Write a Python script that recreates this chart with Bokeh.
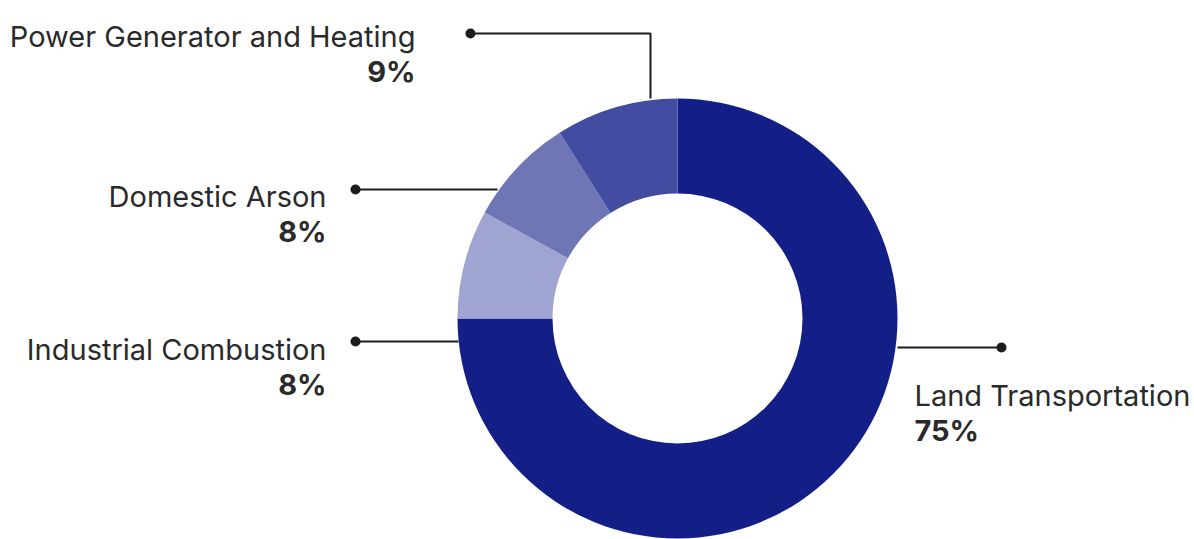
import math
from bokeh.plotting import figure
from bokeh.models import Range1d
from bokeh.core.properties import value
from bokeh.embed import file_html
from bokeh.resources import INLINE

# ---- data ----
categories = ["Land Transportation", "Industrial Combustion", "Domestic Arson", "Power Generator and Heating"]
shares = [75, 8, 8, 9]
pct_labels = ["75%", "8%", "8%", "9%"]
colors = ["#131f87", "#a0a4d0", "#6f76b5", "#424ca0"]

W, H = 1194, 539
p = figure(width=W, height=H, output_backend="svg", toolbar_location=None,
           x_range=Range1d(0, W), y_range=Range1d(0, H), min_border=0)
p.axis.visible = False
p.grid.visible = False
p.outline_line_color = None
p.background_fill_color = "white"

def Y(y):
    return H - y

cx, cy = 677, Y(318)
r_out, r_in = 220, 125

total = sum(shares)
start = math.pi / 2
starts, ends = [], []
for s in shares:
    a = s / total * 2 * math.pi
    starts.append(start)
    ends.append(start - a)
    start -= a

p.annular_wedge(x=[cx] * len(shares), y=[cy] * len(shares), inner_radius=r_in, outer_radius=r_out,
                start_angle=starts, end_angle=ends, direction="clock",
                fill_color=colors, line_color=None)

ink = "#1c1c1c"
font = value("Inter")

# leader lines: Land, Industrial, Domestic, Power
p.line([897, 1001], [Y(347)] * 2, line_color=ink, line_width=2)
p.line([355, 458], [Y(341)] * 2, line_color=ink, line_width=2)
p.line([355, 497], [Y(189)] * 2, line_color=ink, line_width=2)
p.line([470, 650, 650], [Y(33), Y(33), Y(98)], line_color=ink, line_width=2)
p.scatter(x=[1001, 355, 355, 470], y=[Y(347), Y(341), Y(189), Y(33)], size=10,
          fill_color=ink, line_color=None)

# labels
lab_x = [914, 326, 326, 415]
lab_y = [395, 349, 196, 36]
aligns = ["left", "right", "right", "right"]
for i in range(4):
    p.text(x=[lab_x[i]], y=[Y(lab_y[i])], text=[categories[i]], text_align=aligns[i],
           text_baseline="alphabetic", text_font=font, text_font_size="29px", text_color="#2a2a2a")
    p.text(x=[lab_x[i]], y=[Y(lab_y[i] + 35)], text=[pct_labels[i]], text_align=aligns[i],
           text_baseline="alphabetic", text_font=font, text_font_size="29px", text_font_style="bold",
           text_color="#2a2a2a")

open("out.html", "w").write(file_html(p, INLINE))
